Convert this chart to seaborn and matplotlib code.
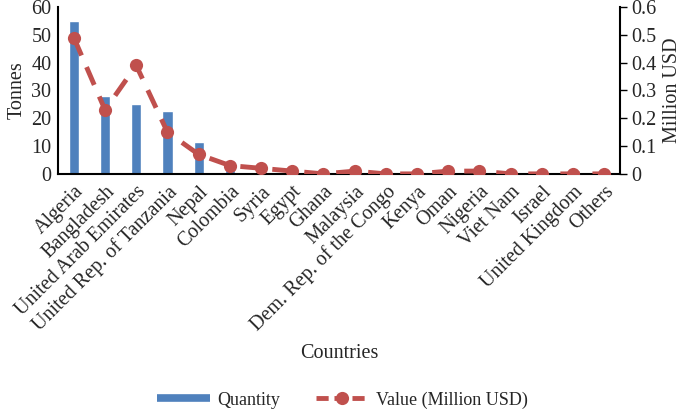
import matplotlib
matplotlib.use("Agg")
import matplotlib.pyplot as plt
import seaborn as sns
import pandas as pd
import numpy as np
from matplotlib.lines import Line2D

countries = ["Algeria", "Bangladesh", "United Arab Emirates", "United Rep. of Tanzania",
             "Nepal", "Colombia", "Syria", "Egypt", "Ghana", "Malaysia",
             "Dem. Rep. of the Congo", "Kenya", "Oman", "Nigeria", "Viet Nam",
             "Israel", "United Kingdom", "Others"]
quantity = [55.0, 28.0, 25.3, 22.5, 11.5, 1.5, 0.6, 0.4, 0.2, 0.3, 0.2, 0.2, 0.3, 0.3, 0.1, 0.1, 0.1, 0.1]
value = [0.49, 0.23, 0.39, 0.15, 0.07, 0.03, 0.02, 0.01, 0.0, 0.01, 0.0, 0.0, 0.01, 0.01, 0.0, 0.0, 0.0, 0.0]

df = pd.DataFrame({"Country": countries, "Quantity": quantity, "Value": value})

sns.set_style("white")
plt.rcParams["font.family"] = ["Liberation Serif", "DejaVu Serif"]
FS = 14.5

fig = plt.figure(figsize=(6.85, 4.13), dpi=100)
ax = fig.add_axes([0.085, 0.579, 0.82, 0.404])

bar_c = "#4F81BD"
line_c = "#C0504D"

sns.barplot(data=df, x="Country", y="Quantity", color=bar_c, width=0.33,
            saturation=1, ax=ax)
ax.set_ylim(0, 60)
ax.set_yticks(range(0, 61, 10))
ax.set_xlim(-0.5, len(countries) - 0.5)
ax.set_ylabel("Tonnes", fontsize=FS, labelpad=3)
ax.set_xlabel("Countries", fontsize=FS, labelpad=6)
ax.set_xticks(range(len(countries)))
ax.set_xticklabels(countries, rotation=45, ha="right", rotation_mode="anchor", fontsize=FS)
ax.tick_params(axis="x", which="major", length=0, pad=6)
ax.set_xticks(np.arange(-0.5, len(countries), 1.0), minor=True)
ax.tick_params(axis="x", which="minor", length=6, width=1, direction="out", color="black")
ax.tick_params(axis="y", length=0, pad=5, labelsize=FS)

ax2 = ax.twinx()
df["pos"] = np.arange(len(countries))
sns.lineplot(data=df, x="pos", y="Value", ax=ax2, color=line_c, linewidth=3.5,
             marker="o", markersize=9.5, markeredgewidth=0, sort=False)
ax2.lines[0].set_dashes([4, 2.6])
ax2.set_ylim(0, 0.6)
ax2.set_xlim(-0.5, len(countries) - 0.5)
ax2.set_yticks(np.arange(0, 0.61, 0.1))
ax2.set_yticklabels(["0", "0.1", "0.2", "0.3", "0.4", "0.5", "0.6"])
ax2.set_ylabel("Million USD", fontsize=FS, labelpad=5)
ax2.set_xlabel("")
ax2.tick_params(axis="y", length=5, width=1, direction="out", color="black", labelsize=FS, pad=3)

for a in (ax, ax2):
    for s in a.spines.values():
        s.set_visible(False)
ax.spines["left"].set_visible(True)
ax.spines["bottom"].set_visible(True)
ax2.spines["right"].set_visible(True)
for a, s in ((ax, "left"), (ax, "bottom"), (ax2, "right")):
    a.spines[s].set_color("black")
    a.spines[s].set_linewidth(1.5)

h_bar = Line2D([0], [0], color=bar_c, lw=5.5, solid_capstyle="butt", label="Quantity")
h_line = Line2D([0], [0], color=line_c, lw=3.5, dashes=[2.5, 1.2], marker="o",
                markersize=9.5, markeredgewidth=0, label="Value (Million USD)")
fig.legend(handles=[h_bar, h_line],
           loc="lower center", bbox_to_anchor=(0.5, -0.025), ncol=2, frameon=False,
           fontsize=13, handlelength=2.9, handletextpad=0.4, columnspacing=2.0,
           borderpad=0.3)

fig.savefig("out.png", dpi=100)
